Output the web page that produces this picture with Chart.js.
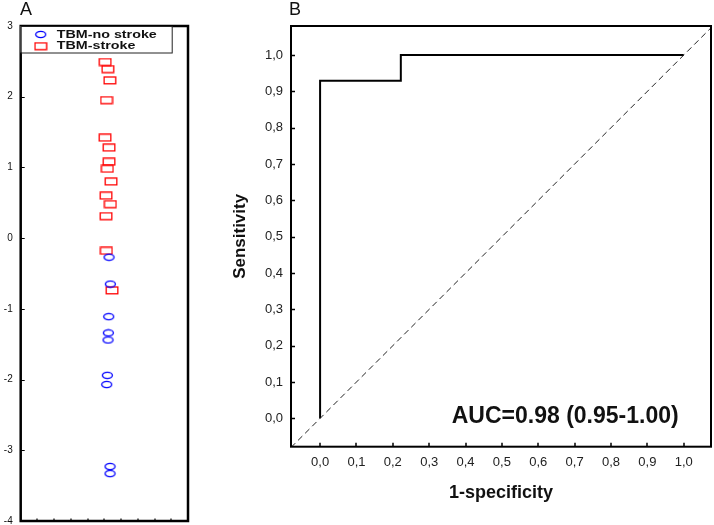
<!DOCTYPE html>
<html>
<head>
<meta charset="utf-8">
<script src="https://cdn.jsdelivr.net/npm/chart.js@4.4.0/dist/chart.umd.min.js"></script>
<style>
  html, body { margin:0; padding:0; background:#fff; }
  body { width:714px; height:525px; position:relative; overflow:hidden; font-family:"Liberation Sans", Arial, sans-serif; }
  .panel { position:absolute; top:0; height:525px; }
  #wrapA { left:0; width:200px; }
  #wrapB { left:210px; width:504px; }
  .tag { position:absolute; top:-1px; font-size:18px; color:#111; line-height:1.15; }
</style>
</head>
<body>
<div class="panel" id="wrapA"><canvas id="chartA" width="200" height="525"></canvas></div>
<div class="panel" id="wrapB"><canvas id="chartB" width="504" height="525"></canvas></div>
<div class="tag" style="left:20px">A</div>
<div class="tag" style="left:289px">B</div>
<script>
/* panel A — individual values, jittered around x = 5 */
const noStrokeX = [5.28, 5.36, 5.26, 5.24, 5.22, 5.18, 5.14, 5.34, 5.34];
const noStrokeY = [-0.27, -0.65, -1.11, -1.34, -1.44, -1.94, -2.07, -3.23, -3.33];
const strokeX = [5.05, 5.21, 5.33, 5.13, 5.04, 5.28, 5.28, 5.18, 5.40, 5.10, 5.36, 5.10, 5.12, 5.46];
const strokeY = [2.49, 2.39, 2.23, 1.95, 1.42, 1.28, 1.08, 0.98, 0.80, 0.60, 0.48, 0.31, -0.18, -0.74];
const xTicksA = [1, 2, 3, 4, 5, 6, 7, 8, 9];

/* panel B — ROC curve */
const rocX = [0, 0, 0.222, 0.222, 1.0];
const rocY = [0, 0.929, 0.929, 1.0, 1.0];
const diagX = [-0.08, 1.08];
const diagY = [-0.08, 1.08];
const xTicksB = [0, 0.1, 0.2, 0.3, 0.4, 0.5, 0.6, 0.7, 0.8, 0.9, 1.0];
const yTicksB = [0, 0.1, 0.2, 0.3, 0.4, 0.5, 0.6, 0.7, 0.8, 0.9, 1.0];
const aucText = 'AUC=0.98 (0.95-1.00)';
const aucPos = { x: 0.674, y: 0.005 };

const FONT = '"Liberation Sans", Arial, sans-serif';
const pts = (xs, ys) => xs.map((x, i) => ({ x, y: ys[i] }));
const comma = v => Number(v).toFixed(1).replace('.', ',');

function rectMark(color) {
  const c = document.createElement('canvas'); c.width = 14; c.height = 9;
  const g = c.getContext('2d');
  g.strokeStyle = color; g.lineWidth = 1.3;
  g.strokeRect(1.2, 1, 11.6, 6.8);
  return c;
}
function ovalMark(color) {
  const c = document.createElement('canvas'); c.width = 13; c.height = 9;
  const g = c.getContext('2d');
  g.strokeStyle = color; g.lineWidth = 1.3;
  g.beginPath(); g.ellipse(6.5, 4.5, 5, 3.1, 0, 0, Math.PI * 2); g.stroke();
  return c;
}

/* box around the plot + short inward tick marks */
const framePlugin = {
  id: 'frame',
  afterDraw(chart, args, opts) {
    const { ctx, chartArea: a, scales } = chart;
    ctx.save();
    ctx.strokeStyle = '#000';
    ctx.lineWidth = opts.tickWidth;
    ctx.beginPath();
    scales.y.ticks.forEach(t => {
      const p = Math.round(scales.y.getPixelForValue(t.value)) + 0.5;
      ctx.moveTo(a.left, p); ctx.lineTo(a.left + opts.yTick, p);
    });
    scales.x.ticks.forEach(t => {
      const p = Math.round(scales.x.getPixelForValue(t.value));
      ctx.moveTo(p, a.bottom); ctx.lineTo(p, a.bottom - opts.xTick);
    });
    ctx.stroke();
    ctx.lineWidth = opts.width;
    ctx.strokeRect(a.left, a.top, a.right - a.left, a.bottom - a.top);
    ctx.restore();
  }
};

/* boxed legend in the upper-left corner of panel A */
const boxLegendPlugin = {
  id: 'boxLegend',
  afterDraw(chart, args, opts) {
    if (!opts.show) return;
    const { ctx, chartArea: a } = chart;
    ctx.save();
    ctx.fillStyle = '#fff';
    ctx.fillRect(a.left, a.top, opts.w, opts.h);
    ctx.strokeStyle = '#222'; ctx.lineWidth = 1;
    ctx.strokeRect(a.left + 0.5, a.top + 0.5, opts.w, opts.h);
    ctx.font = 'bold 11px ' + FONT;
    ctx.fillStyle = '#111';
    ctx.textBaseline = 'middle';
    chart.data.datasets.forEach((ds, i) => {
      const y = a.top + 8.5 + i * 11.8;
      const img = ds.pointStyle;
      ctx.drawImage(img, a.left + 20 - img.width / 2, y - img.height / 2);
      ctx.save();
      ctx.translate(a.left + 36, y);
      ctx.scale(1.3, 1);
      ctx.fillText(ds.label, 0, 0);
      ctx.restore();
    });
    ctx.restore();
  }
};

/* AUC annotation placed in data units */
const aucPlugin = {
  id: 'auc',
  afterDatasetsDraw(chart) {
    const { ctx, scales } = chart;
    ctx.save();
    ctx.font = 'bold 23px ' + FONT;
    ctx.fillStyle = '#111';
    ctx.textAlign = 'center';
    ctx.textBaseline = 'middle';
    ctx.fillText(aucText, scales.x.getPixelForValue(aucPos.x), scales.y.getPixelForValue(aucPos.y));
    ctx.restore();
  }
};

new Chart(document.getElementById('chartA'), {
  type: 'scatter',
  data: {
    datasets: [
      { label: 'TBM-no stroke', data: pts(noStrokeX, noStrokeY), pointStyle: ovalMark('#0000ff'), pointRadius: 5 },
      { label: 'TBM-stroke', data: pts(strokeX, strokeY), pointStyle: rectMark('#ff0000'), pointRadius: 5 },
    ],
  },
  options: {
    responsive: false, animation: false,
    layout: { autoPadding: false, padding: { top: 26, right: 12, left: 0, bottom: 0 } },
    plugins: {
      legend: { display: false },
      tooltip: { enabled: false },
      frame: { width: 2.5, yTick: 4, xTick: 2.5, tickWidth: 1.2 },
      boxLegend: { show: true, w: 151, h: 26.5 },
    },
    scales: {
      x: {
        type: 'linear', min: 0, max: 10,
        afterBuildTicks: s => { s.ticks = xTicksA.map(v => ({ value: v })); },
        ticks: { display: false },
        grid: { display: false, drawTicks: false },
        border: { display: false },
        afterFit: s => { s.height = 4; },
      },
      y: {
        min: -4, max: 3,
        ticks: { stepSize: 1, padding: 8, color: '#111', font: { size: 10, family: FONT } },
        grid: { display: false, drawTicks: false },
        border: { display: false },
        /* the end labels may hang over the canvas edge, as in the original */
        afterFit: s => { s.width = 20.7; s.paddingTop = 0; s.paddingBottom = 0; },
      },
    },
  },
  plugins: [framePlugin, boxLegendPlugin],
});

new Chart(document.getElementById('chartB'), {
  type: 'scatter',
  data: {
    datasets: [
      { label: 'reference', data: pts(diagX, diagY), showLine: true, borderColor: '#222', borderWidth: 1, borderDash: [6, 4], pointRadius: 0 },
      { label: 'ROC', data: pts(rocX, rocY), showLine: true, borderColor: '#000', borderWidth: 2, pointRadius: 0 },
    ],
  },
  options: {
    responsive: false, animation: false,
    layout: { autoPadding: false, padding: { top: 26, right: 3, left: 0, bottom: 0 } },
    plugins: {
      legend: { display: false },
      tooltip: { enabled: false },
      frame: { width: 2, yTick: 4, xTick: 4, tickWidth: 1.5 },
    },
    scales: {
      x: {
        type: 'linear', min: -0.08, max: 1.075,
        afterBuildTicks: s => { s.ticks = xTicksB.map(v => ({ value: v })); },
        ticks: { padding: 8, color: '#222', font: { size: 13, family: FONT }, callback: v => comma(v), maxRotation: 0, autoSkip: false },
        grid: { display: false, drawTicks: false },
        border: { display: false },
        title: { display: true, text: '1-specificity', color: '#111', font: { size: 18, weight: 'bold', family: FONT }, padding: { top: 0, bottom: 21 } },
        afterFit: s => { s.height = 78.3; },
      },
      y: {
        min: -0.078, max: 1.08,
        afterBuildTicks: s => { s.ticks = yTicksB.map(v => ({ value: v })); },
        ticks: { padding: 8, color: '#222', font: { size: 13, family: FONT }, callback: v => comma(v), autoSkip: false },
        grid: { display: false, drawTicks: false },
        border: { display: false },
        title: { display: true, text: 'Sensitivity', color: '#111', font: { size: 17, weight: 'bold', family: FONT }, padding: { top: 20, bottom: 0 } },
        afterFit: s => { s.width = 81; },
      },
    },
  },
  plugins: [framePlugin, aucPlugin],
});
</script>
</body>
</html>
